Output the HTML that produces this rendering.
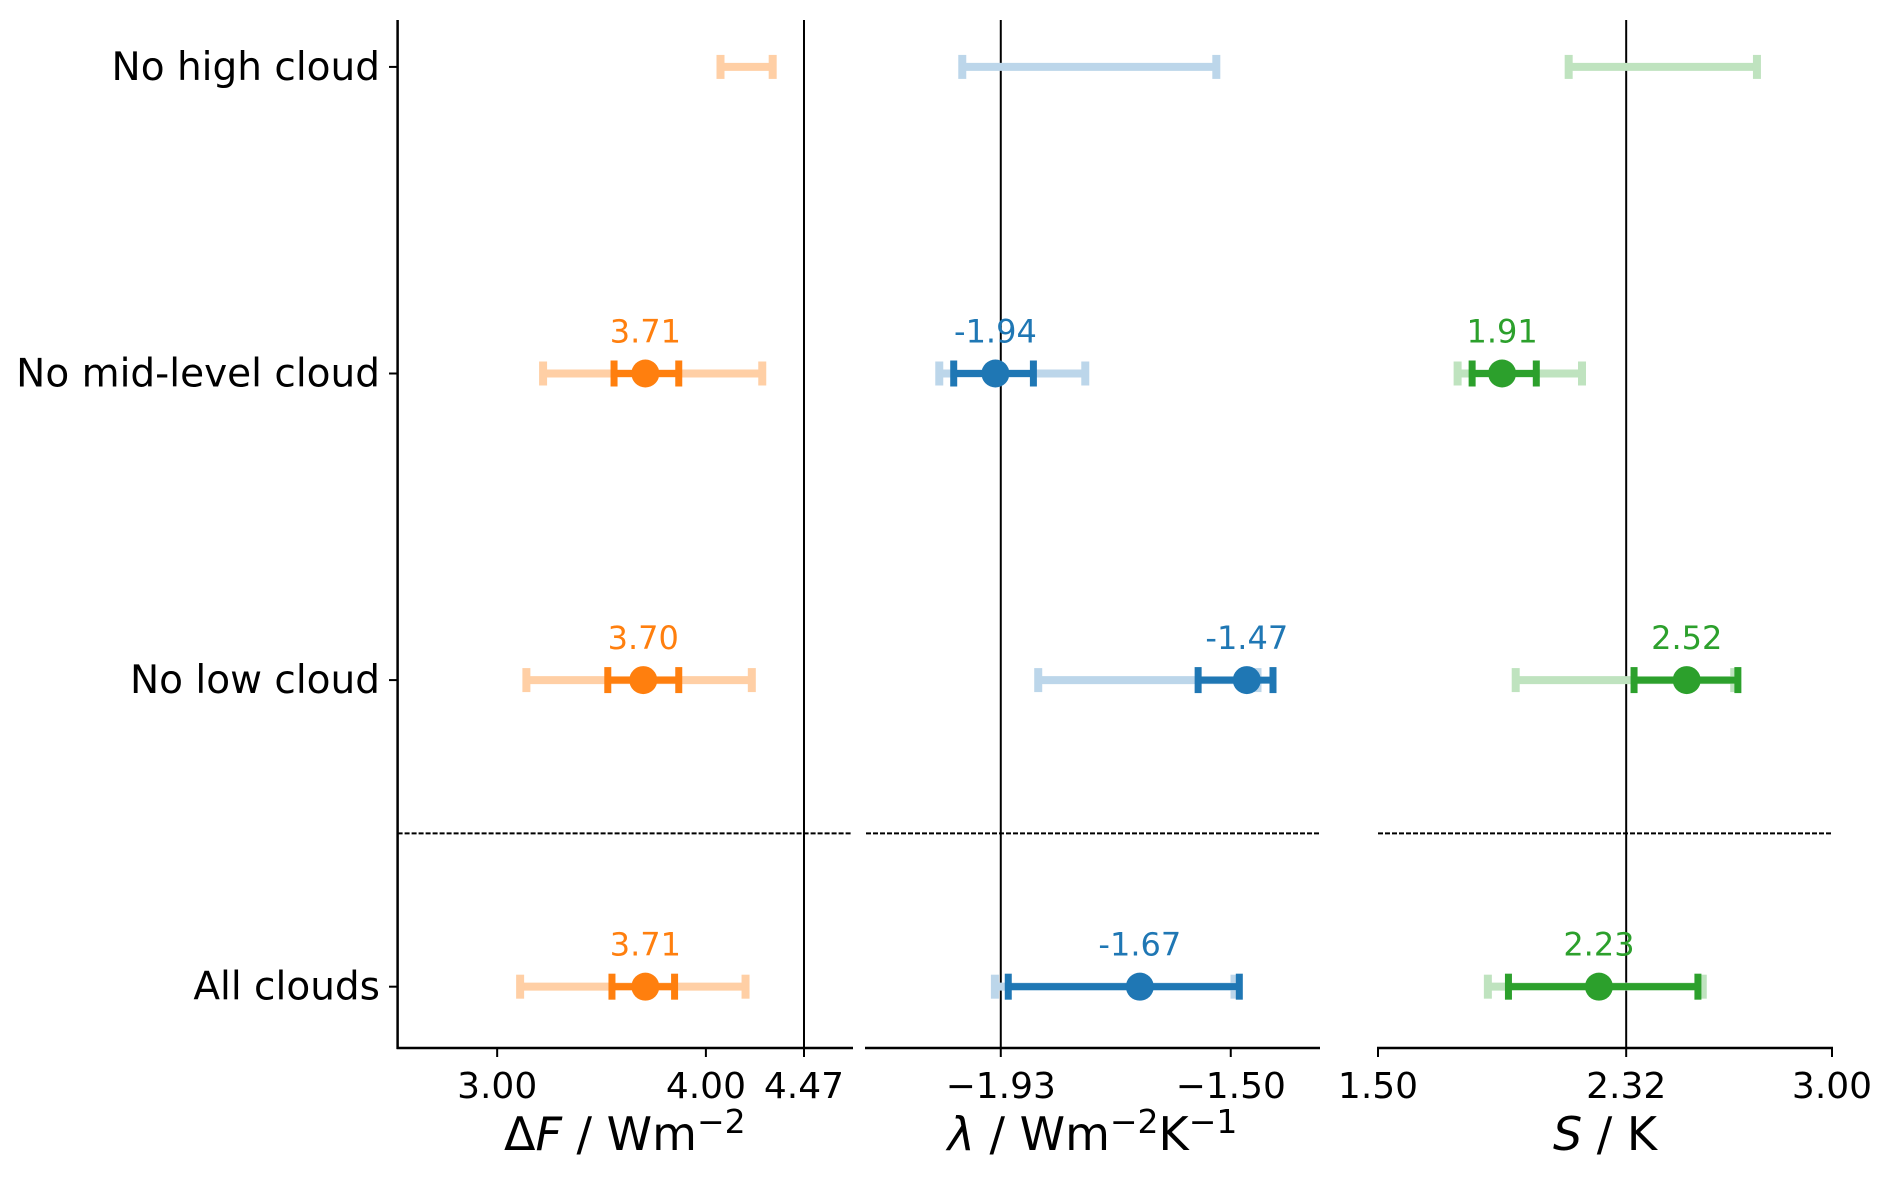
<!DOCTYPE html>
<html><head><meta charset="utf-8"><style>
html,body{margin:0;padding:0;background:#fff}
svg text{font-family:"DejaVu Sans","Liberation Sans",sans-serif}
</style></head><body>
<svg id="chart" width="1892" height="1176" viewBox="0 0 1892 1176" xmlns="http://www.w3.org/2000/svg"></svg>
<script>
const categories = ["All clouds","No low cloud","No mid-level cloud","No high cloud"];
// forcing panel
const fVal   = [3.71, 3.70, 3.71, null];
const fLight = [[3.11,4.19],[3.14,4.22],[3.22,4.27],[4.07,4.32]];
const fDark  = [[3.55,3.85],[3.53,3.87],[3.56,3.87],null];
const fTicks = [3.00, 4.00, 4.47];
const fRef = 4.47;
// feedback panel
const lVal   = [-1.67, -1.47, -1.94, null];
const lLight = [[-1.941,-1.493],[-1.860,-1.450],[-2.045,-1.772],[-2.002,-1.527]];
const lDark  = [[-1.916,-1.484],[-1.561,-1.421],[-2.018,-1.869],null];
const lTicks = [-1.93, -1.50];
const lRef = -1.93;
// sensitivity panel
const sVal   = [2.23, 2.52, 1.91, null];
const sLight = [[1.863,2.573],[1.955,2.677],[1.763,2.174],[2.130,2.752]];
const sDark  = [[1.931,2.557],[2.346,2.689],[1.811,2.023],null];
const sTicks = [1.50, 2.32, 3.00];
const sRef = 2.32;

const NS="http://www.w3.org/2000/svg";
const svg=document.getElementById('chart');
function mk(tag,attrs,parent){const e=document.createElementNS(NS,tag);for(const k in attrs)e.setAttribute(k,attrs[k]);(parent||svg).appendChild(e);return e;}
const yTop=20,yBottom=1048;
const yMin=-0.2,yMax=3.153;
function yPos(i){return yBottom-(i-yMin)/(yMax-yMin)*(yBottom-yTop);}

const panels=[
 {name:'forcing',x0:397.6,x1:852,d:[2.523,4.70],val:fVal,light:fLight,dark:fDark,ticks:fTicks,ref:fRef,col:'#ff7f0e',lc:'#ffcfa5',
  label:'<tspan>Δ</tspan><tspan font-style="italic">F</tspan><tspan> / Wm</tspan><tspan dy="-17" font-size="33">−2</tspan>'},
 {name:'feedback',x0:866,x1:1319,d:[-2.182,-1.335],val:lVal,light:lLight,dark:lDark,ticks:lTicks,ref:lRef,col:'#1f77b4',lc:'#bcd6ea',
  label:'<tspan font-style="italic">λ</tspan><tspan> / Wm</tspan><tspan dy="-17" font-size="33">−2</tspan><tspan dy="17">K</tspan><tspan dy="-17" font-size="33">−1</tspan>'},
 {name:'sensitivity',x0:1378,x1:1832,d:[1.5,3.0],val:sVal,light:sLight,dark:sDark,ticks:sTicks,ref:sRef,col:'#2ca02c',lc:'#bfe3bf',
  label:'<tspan font-style="italic">S</tspan><tspan> / K</tspan>'}
];

panels.forEach((p,pi)=>{
  const g=mk('g',{});
  
  
  const x=v=>p.x0+(v-p.d[0])/(p.d[1]-p.d[0])*(p.x1-p.x0);
  const rl=mk('line',{x1:x(p.ref),x2:x(p.ref),y1:yTop,y2:yBottom,stroke:'#000','stroke-width':2},g);
  
  
  const ds=mk('line',{x1:p.x0,x2:p.x1,y1:yPos(0.5),y2:yPos(0.5),stroke:'#000','stroke-width':2,'stroke-dasharray':'5,2'},g);
  
  
  const sp=mk('line',{x1:p.x0-1,x2:p.x1+1,y1:yBottom,y2:yBottom,stroke:'#000','stroke-width':2.5},g);
  
  
  p.ticks.forEach(t=>{
    const tl=mk('line',{x1:x(t),x2:x(t),y1:yBottom,y2:yBottom+9,stroke:'#000','stroke-width':2},g);
    
    
    const tt=mk('text',{x:x(t),y:1098,'text-anchor':'middle','font-size':36,fill:'#000'},g);
    tt.textContent=(t<0?'−':'')+Math.abs(t).toFixed(2);
    
    
  });
  const al=mk('text',{x:(p.x0+p.x1)/2,y:1150,'text-anchor':'middle','font-size':46,fill:'#000'},g);
  al.innerHTML=p.label;
  
  
  categories.forEach((c,i)=>{
    const yy=yPos(i);
    const L=p.light[i];
    const lb=mk('g',{stroke:p.lc,'stroke-width':8},g);
    
    
    mk('line',{x1:x(L[0]),x2:x(L[1]),y1:yy,y2:yy},lb);
    mk('line',{x1:x(L[0]),x2:x(L[0]),y1:yy-12,y2:yy+12},lb);
    mk('line',{x1:x(L[1]),x2:x(L[1]),y1:yy-12,y2:yy+12},lb);
    const D=p.dark[i];
    if(D){
      const db=mk('g',{stroke:p.col,'stroke-width':7},g);
      
      
      mk('line',{x1:x(D[0]),x2:x(D[1]),y1:yy,y2:yy},db);
      mk('line',{x1:x(D[0]),x2:x(D[0]),y1:yy-13,y2:yy+13},db);
      mk('line',{x1:x(D[1]),x2:x(D[1]),y1:yy-13,y2:yy+13},db);
    }
    const v=p.val[i];
    if(v!==null){
      const pt=mk('circle',{cx:x(v),cy:yy,r:14,fill:p.col},g);
      
      
      const vt=mk('text',{x:x(v),y:yy-31,'text-anchor':'middle','font-size':32,fill:p.col},g);
      vt.textContent=v.toFixed(2);
      
      
    }
  });
});
const ys=mk('line',{x1:397.6,x2:397.6,y1:yTop,y2:yBottom+1,stroke:'#000','stroke-width':2.5});


categories.forEach((c,i)=>{
  const tl=mk('line',{x1:389,x2:397,y1:yPos(i),y2:yPos(i),stroke:'#000','stroke-width':2});
  
  
  const t=mk('text',{x:380,y:yPos(i)+13,'text-anchor':'end','font-size':39,fill:'#000'});
  t.textContent=c;
  
  
});
</script>
</body></html>
